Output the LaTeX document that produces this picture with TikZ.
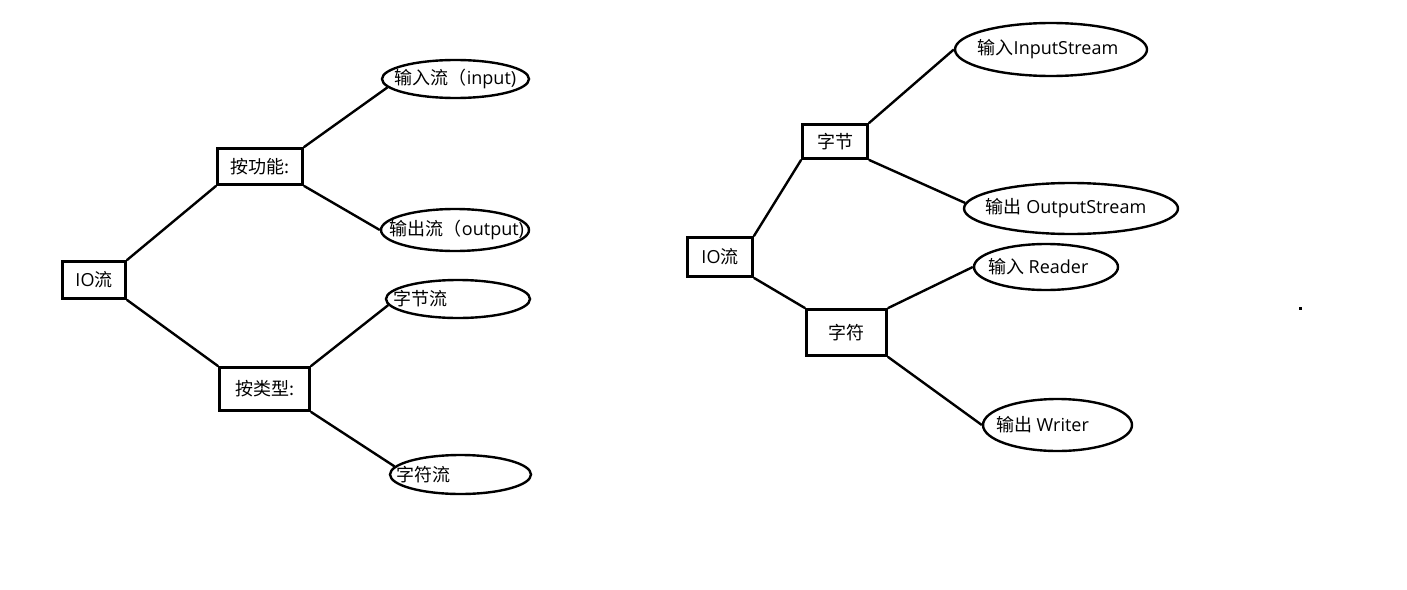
\documentclass[tikz,border=0pt]{standalone}
\usepackage{xcolor}
\usepackage{fontspec}
\setmainfont{Open Sans}
\newfontfamily\cjk{Noto Sans CJK SC}
\usetikzlibrary{shapes.geometric}

\begin{document}
\begin{tikzpicture}[x=1pt, y=-1pt,
    every node/.style={font=\fontsize{18}{21}\selectfont},
    box/.style={draw, line width=2.6pt, inner sep=0pt},
    oval/.style={draw, ellipse, line width=2.4pt, inner sep=0pt},
    txt/.style={inner sep=0pt},
    link/.style={line width=2.4pt}]
      % \draw[help lines, gray!50, very thin] (0,0) grid[step=50] (1407,589);
      \useasboundingbox (0,0) rectangle (1407,589);

      % left tree
      \node[box, minimum width=63pt, minimum height=37pt] (io) at (94,280) {IO{\cjk 流}};
      \node[box, minimum width=85pt, minimum height=36pt] (fn) at (260,166.5) {\cjk 按功能:};
      \node[box, minimum width=90pt, minimum height=43pt] (ty) at (264.5,389) {\cjk 按类型:};

      \node[oval, minimum width=147pt, minimum height=38pt] (in) at (455.5,79) {};
      \node[txt] (inT) at (in.center) {{\cjk 输入流（}input)};
      \node[oval, minimum width=148pt, minimum height=42pt] (out) at (455,230) {};
      \node[txt] (outT) at ([xshift=2pt]out.center) {{\cjk 输出流（}output)};
      \node[oval, minimum width=144pt, minimum height=38pt] (zjl) at (458,299) {};
      \node[txt, anchor=west] (zjlT) at ([xshift=8pt]zjl.west) {\cjk 字节流};
      \node[oval, minimum width=141pt, minimum height=39pt] (zfl) at (460.5,474.5) {};
      \node[txt, anchor=west] (zflT) at ([xshift=7pt]zfl.west) {\cjk 字符流};

      \draw[link] (io.north east) -- (fn.south west);
      \draw[link] (io.south east) -- (ty.north west);
      \draw[link] (fn.north east) -- (in.187);
      \draw[link] (fn.south east) -- (out.west);
      \draw[link] (ty.north east) -- (zjl.185);
      \draw[link] (ty.south east) -- (zfl.173);

      % right tree
      \node[box, minimum width=65pt, minimum height=39pt] (ioR) at (720,257) {IO{\cjk 流}};
      \node[box, minimum width=65pt, minimum height=34pt] (bt) at (835,141.5) {\cjk 字节};
      \node[box, minimum width=80pt, minimum height=46pt] (ch) at (846.5,332.5) {\cjk 字符};

      \node[oval, minimum width=192pt, minimum height=53pt] (bIn) at (1051,49.5) {};
      \node[txt] (bInT) at ([xshift=-3pt]bIn.center) {{\cjk 输入}InputStream};
      \node[oval, minimum width=214pt, minimum height=51pt] (bOut) at (1071,208.5) {};
      \node[txt] (bOutT) at ([xshift=-5pt]bOut.center) {{\cjk 输出} OutputStream};
      \node[oval, minimum width=144pt, minimum height=46pt] (rd) at (1046,267) {};
      \node[txt, anchor=west] (rdT) at ([xshift=15pt]rd.west) {{\cjk 输入} Reader};
      \node[oval, minimum width=149pt, minimum height=52pt] (wr) at (1057.5,425) {};
      \node[txt, anchor=west] (wrT) at ([xshift=14pt]wr.west) {{\cjk 输出} Writer};

      \draw[link] (ioR.north east) -- (bt.south west);
      \draw[link] (ioR.south east) -- (ch.north west);
      \draw[link] (bt.north east) -- (bIn.west);
      \draw[link] (bt.south east) -- (bOut.177);
      \draw[link] (ch.north east) -- (rd.west);
      \draw[link] (ch.south east) -- (wr.west);

      \fill (1298.5,306.5) rectangle (1301.5,309.5);
    \end{tikzpicture}
\end{document}
